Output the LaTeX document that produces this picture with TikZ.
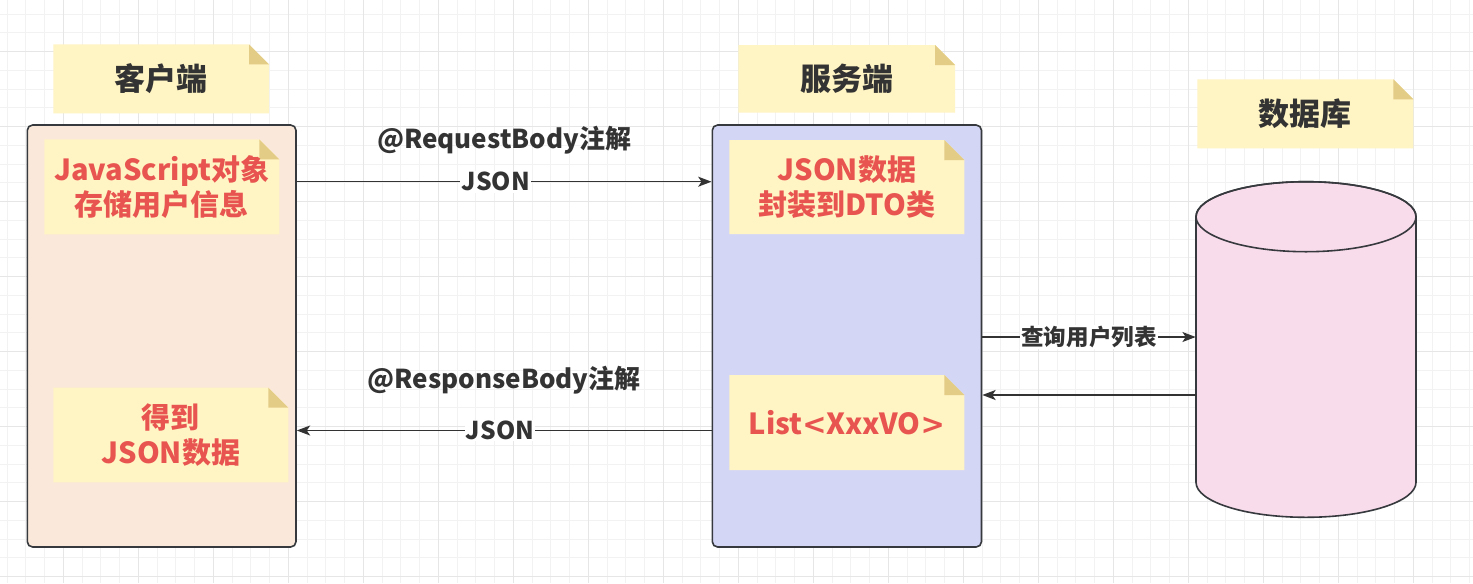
\documentclass[tikz,border=0pt]{standalone}
\usepackage{fontspec}
\setmainfont{Noto Sans CJK SC}
\newfontfamily\symfont{DejaVu Sans}
\usetikzlibrary{arrows.meta,fit}
\definecolor{ink}{HTML}{333333}
\definecolor{boxline}{HTML}{36393D}
\definecolor{redtext}{HTML}{E85450}
\definecolor{notefill}{HTML}{FFF4C3}
\definecolor{foldfill}{HTML}{E3CC86}
\definecolor{clientfill}{HTML}{FAE8DA}
\definecolor{serverfill}{HTML}{D4D6F6}
\definecolor{dbfill}{HTML}{F9DCEB}
\definecolor{gridminor}{HTML}{F2F2F2}
\definecolor{gridmajor}{HTML}{E6E6E6}
\tikzset{
  bigbox/.style={draw=boxline, line width=1.2pt, rounded corners=4pt, inner sep=0pt},
  titletext/.style={font=\bfseries\fontsize{23.25}{28}\selectfont, text=ink, align=center, inner sep=0pt},
  bodytext/.style={font=\bfseries\fontsize{21.75}{26.25}\selectfont, text=redtext, align=center, inner sep=0pt},
  edgelbl/.style={font=\bfseries\fontsize{16.9}{20}\selectfont, text=ink, inner sep=1pt},
  jsonlbl/.style={font=\bfseries\fontsize{18.4}{22}\selectfont, text=ink, inner sep=1pt, fill=white},
  annolbl/.style={font=\bfseries\fontsize{19.5}{23}\selectfont, text=ink, inner sep=1pt},
  arr/.style={draw=ink, line width=1.1pt, -{Stealth[length=10pt,width=7.5pt,inset=2.5pt]}},
}
\newcommand{\stickynote}[8]{%
  \fill[notefill] (#2,-#3) -- ({#4-#6},-#3) -- (#4,{-#3-#6}) -- (#4,-#5) -- (#2,-#5) -- cycle;
  \fill[foldfill] ({#4-#6},-#3) -- ({#4-#6},{-#3-#6}) -- (#4,{-#3-#6}) -- cycle;
  \node[#7] (#1) at ({(#2+#4)/2},{-(#3+#5)/2}) {#8};}
\begin{document}
\begin{tikzpicture}[x=0.75pt,y=0.75pt]
\fill[white] (0,0) rectangle (1473,-583);
\useasboundingbox (0,0) rectangle (1473,-583);
% grid
\foreach \gx in {7.05,25.8,...,1473} \draw[gridminor, line width=0.75pt] (\gx,0) -- (\gx,-583);
\foreach \gy in {14.2,32.95,...,583} \draw[gridminor, line width=0.75pt] (0,-\gy) -- (1473,-\gy);
\foreach \gx in {63.3,138.3,...,1473} \draw[gridmajor, line width=0.75pt] (\gx,0) -- (\gx,-583);
\foreach \gy in {51.7,126.7,...,583} \draw[gridmajor, line width=0.75pt] (0,-\gy) -- (1473,-\gy);

% containers
\node[bigbox, fill=clientfill, fit={(27.3,-125) (296,-547)}] (client) {};
\node[bigbox, fill=serverfill, fit={(712.3,-125) (981.5,-547)}] (server) {};
\node[inner sep=0pt, fit={(1196,-181.7) (1416,-517.3)}] (db) {};
\draw[draw=boxline, line width=1.2pt, fill=dbfill]
  (1196,-216.7) -- (1196,-482.3) arc[start angle=180, end angle=360, x radius=110, y radius=35]
  -- (1416,-216.7) arc[start angle=0, end angle=180, x radius=110, y radius=35] -- cycle;
\draw[draw=boxline, line width=1.2pt] (1306,-216.7) ellipse[x radius=110, y radius=35];

% notes
\stickynote{tclient}{53.3}{44.3}{269}{113.3}{20}{titletext}{客户端}
\stickynote{tserver}{738.3}{45}{955}{112.7}{20}{titletext}{服务端}
\stickynote{tdb}{1197.3}{79.3}{1413.3}{148.3}{20}{titletext}{数据库}
\stickynote{njs}{44.3}{139.3}{279.3}{234.3}{20}{bodytext}{JavaScript对象\\存储用户信息}
\stickynote{nget}{53.3}{387.7}{288.3}{482.3}{20}{bodytext}{得到\\JSON数据}
\stickynote{ndto}{729.3}{140}{964.3}{234}{20}{bodytext}{JSON数据\\封装到DTO类}
\stickynote{nvo}{729.3}{375}{964.3}{470}{20}{bodytext}{List{\symfont <}XxxVO{\symfont >}}

% connectors
\coordinate (r1) at (0,-181.7);
\coordinate (r2) at (0,-430.5);
\coordinate (r3) at (0,-337);
\coordinate (r4) at (0,-395);
\draw[arr] (client.east |- r1) -- node[pos=0.48, jsonlbl] (lj1) {JSON}
  node[midway, annolbl, yshift=31.3pt] (lreq) {@RequestBody注解} (server.west |- r1);
\draw[arr] (server.west |- r2) -- node[pos=0.51, jsonlbl] (lj2) {JSON}
  node[midway, annolbl, yshift=38pt] (lresp) {@ResponseBody注解} (client.east |- r2);
\draw[arr] (server.east |- r3) -- node[midway, edgelbl, fill=white] (lq) {查询用户列表} (db.west |- r3);
\draw[arr] (db.west |- r4) -- (server.east |- r4);
\end{tikzpicture}
\end{document}
